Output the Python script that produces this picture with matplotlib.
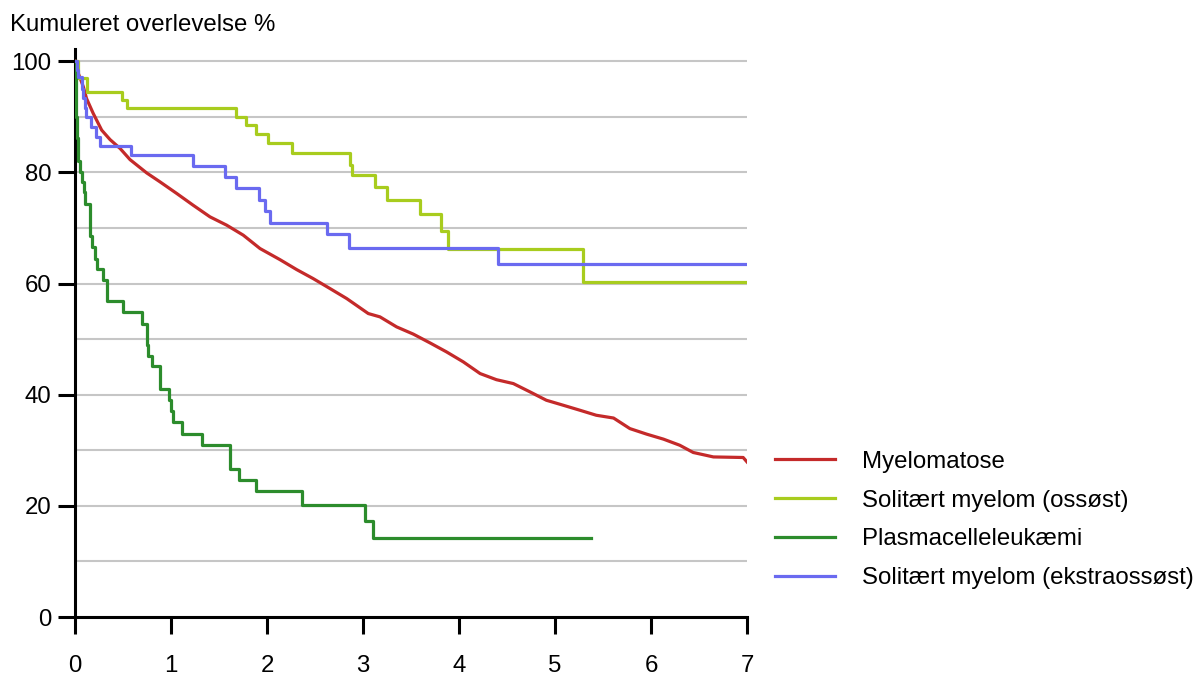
import matplotlib
matplotlib.use("Agg")
import matplotlib.pyplot as plt
from matplotlib.lines import Line2D

plt.rcParams['font.family'] = ['Liberation Sans', 'DejaVu Sans']

# Follow-up time (years) and cumulative survival (%)
labels = ["Myelomatose", "Solitært myelom (ossøst)", "Plasmacelleleukæmi",
          "Solitært myelom (ekstraossøst)"]
colors = ["#c42a2a", "#a8cc1e", "#2c8c2c", "#6a6af0"]

myelomatose_t = [0, 0.035, 0.087, 0.12, 0.19, 0.278, 0.365, 0.47, 0.573, 0.747,
                 0.885, 1.06, 1.23, 1.406, 1.58, 1.753, 1.927, 2.135, 2.31, 2.48,
                 2.656, 2.83, 3.055, 3.177, 3.35, 3.524, 3.70, 3.87, 4.045, 4.22,
                 4.39, 4.566, 4.74, 4.91, 5.086, 5.26, 5.43, 5.61, 5.78, 5.955,
                 6.13, 6.30, 6.44, 6.65, 6.96, 7.0]
myelomatose_v = [100, 97.8, 95.4, 93.3, 90.6, 87.6, 85.9, 84.3, 82.3, 79.9,
                 78.3, 76.2, 74.1, 72.0, 70.5, 68.7, 66.3, 64.3, 62.5, 60.9,
                 59.1, 57.3, 54.6, 54.0, 52.2, 50.9, 49.3, 47.7, 45.9, 43.8,
                 42.7, 42.0, 40.5, 39.0, 38.1, 37.2, 36.3, 35.8, 33.9, 32.9,
                 32.0, 30.9, 29.6, 28.8, 28.7, 27.9]

ossoest_t = [0, 0.03, 0.12, 0.49, 0.54, 1.68, 1.78, 1.885, 2.01, 2.26, 2.865,
             2.89, 3.12, 3.245, 3.59, 3.81, 3.89, 5.295, 7.0]
ossoest_v = [100, 96.9, 94.5, 93.0, 91.6, 90.0, 88.5, 86.9, 85.3, 83.5, 81.3,
             79.5, 77.4, 75.1, 72.6, 69.5, 66.2, 60.2, 60.2]

leukaemi_t = [0, 0.005, 0.01, 0.015, 0.02, 0.035, 0.055, 0.07, 0.09, 0.105,
              0.156, 0.18, 0.208, 0.226, 0.295, 0.33, 0.5, 0.695, 0.745, 0.755,
              0.765, 0.8, 0.885, 0.89, 0.98, 1.0, 1.02, 1.11, 1.32, 1.615, 1.71,
              1.89, 2.36, 3.02, 3.10, 5.375]
leukaemi_v = [100, 97, 94, 90, 86.2, 82, 80, 78.2, 76.5, 74.4,
              68.6, 66.5, 64.4, 62.7, 60.6, 56.8, 54.9, 52.8, 51.0, 49.0,
              47.0, 45.1, 43.0, 41.1, 39.0, 37.0, 35.0, 32.9, 30.9, 26.7, 24.6,
              22.6, 20.1, 17.3, 14.3, 14.3]

ekstra_t = [0, 0.017, 0.035, 0.07, 0.087, 0.1, 0.115, 0.17, 0.22, 0.26, 0.58,
            1.226, 1.5625, 1.674, 1.92, 1.98, 2.03, 2.62, 2.85, 4.41, 7.0]
ekstra_v = [100, 98.4, 97.2, 95.0, 93.3, 91.5, 90.0, 88.2, 86.4, 84.7, 83.1,
            81.1, 79.2, 77.2, 75.0, 73.1, 70.9, 68.9, 66.4, 63.6, 63.6]

x_ticks = [0, 1, 2, 3, 4, 5, 6, 7]
y_ticks = [0, 20, 40, 60, 80, 100]
y_grid = [10, 30, 50, 70, 90]

FS = 17.3
W, H = 1201, 675
fig = plt.figure(figsize=(W / 100, H / 100), dpi=100)
ax = fig.add_axes([75 / W, (H - 617) / H, (747 - 75) / W, (617 - 49) / H])

lw = 2.3
ax.plot(myelomatose_t, myelomatose_v, color=colors[0], lw=lw, zorder=3)
ax.step(ossoest_t, ossoest_v, where='post', color=colors[1], lw=lw, zorder=3)
ax.step(leukaemi_t, leukaemi_v, where='post', color=colors[2], lw=lw, zorder=3)
ax.step(ekstra_t, ekstra_v, where='post', color=colors[3], lw=lw, zorder=3)

ax.set_xlim(0, 7)
ax.set_ylim(0, 102.2)
ax.set_xticks(x_ticks)
ax.set_yticks(y_ticks)
ax.set_yticks(y_grid, minor=True)
ax.yaxis.grid(True, which='both', color='#c6c6c6', lw=1.5, zorder=0)
ax.set_axisbelow(True)

for s in ['top', 'right']:
    ax.spines[s].set_visible(False)
for s in ['left', 'bottom']:
    ax.spines[s].set_linewidth(2.2)
    ax.spines[s].set_color('black')
    ax.spines[s].set_capstyle('projecting')

ax.tick_params(axis='both', which='major', direction='out', length=12,
               width=2.2, labelsize=FS, color='black')
ax.tick_params(axis='x', which='major', pad=15)
ax.tick_params(axis='y', which='major', pad=5)
ax.tick_params(axis='y', which='minor', length=0)

fig.text(10 / W, 1 - 25 / H, "Kumuleret overlevelse %", fontsize=FS,
         ha='left', va='center')

handles = [Line2D([], [], color=c, lw=lw) for c in colors]
fig.legend(handles, labels, loc='center left',
           bbox_to_anchor=(775 / W, 1 - 520 / H), frameon=False,
           fontsize=FS, handlelength=2.5, handletextpad=1.1,
           labelspacing=0.7, borderpad=0, borderaxespad=0)

fig.savefig("out.png", dpi=100)
